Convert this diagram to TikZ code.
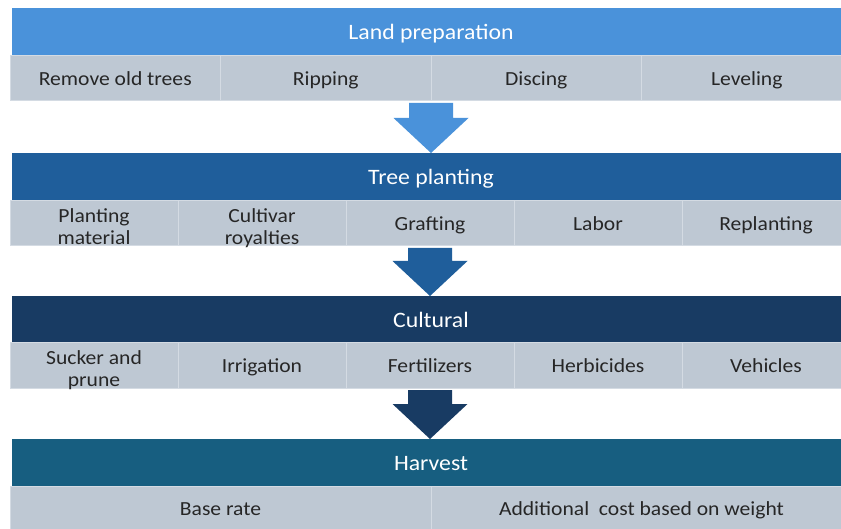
\documentclass[tikz,border=0pt]{standalone}
\usepackage{fontspec}
\setmainfont{Carlito}[FakeStretch=1.08]
\usetikzlibrary{calc}
\definecolor{hA}{HTML}{4A92DA}
\definecolor{hB}{HTML}{1F5E9B}
\definecolor{hC}{HTML}{183B63}
\definecolor{hD}{HTML}{175E80}
\definecolor{cellfill}{HTML}{BEC8D3}
\definecolor{celltext}{HTML}{262626}
\definecolor{divider}{HTML}{D4DBE3}
\newcommand\cellstrut{\rule[-3.6pt]{0pt}{22pt}}
\newcommand\tallstrut{\rule[-3.6pt]{0pt}{28pt}}
\newcommand\hdrstrut{\rule[-4.2pt]{0pt}{24pt}}
\newcommand\blockarrow[3]{%
  \fill[#3] let \p1=(#1), \p2=(#2) in
    (\x1-22pt,\y1-2pt) -- (\x1+22pt,\y1-2pt) -- (\x1+22pt,\y2+35pt) --
    (\x1+37.5pt,\y2+35pt) -- (\x1,\y2) -- (\x1-37.5pt,\y2+35pt) --
    (\x1-22pt,\y2+35pt) -- cycle;}
\begin{document}
\begin{tikzpicture}[x=1pt,y=-1pt,
  hdr/.style={rectangle, anchor=north west, outer sep=0pt, inner sep=0pt,
    minimum width=838pt, minimum height=48pt, text=white,
    font=\fontsize{22}{24}\selectfont,
    execute at begin node=\hdrstrut},
  cell/.style={rectangle, anchor=north west, outer sep=0pt, inner sep=0pt,
    fill=cellfill, draw=divider, line width=1pt, minimum height=45pt,
    text=celltext, align=center, font=\fontsize{20}{22}\selectfont,
    execute at begin node=\cellstrut, execute at end node=\cellstrut},
  twolines/.style={inner ysep=-3.5pt},
  four/.style={cell, minimum width=210.5pt},
  five/.style={cell, minimum width=168pt},
  two/.style={cell, minimum width=421pt}]
\useasboundingbox (0,0) rectangle (841,529);
\fill[white] (0,0) rectangle (841,529);

% Land preparation
\node[hdr, fill=hA] (h1) at (12,8) {Land preparation};
\node[four] (s1a) at (10,56) {Remove old trees};
\node[four] (s1b) at (s1a.north east) {Ripping};
\node[four] (s1c) at (s1b.north east) {Discing};
\node[four] (s1d) at (s1c.north east) {Leveling};

% Tree planting
\node[hdr, fill=hB] (h2) at (12,153) {Tree planting};
\node[five, twolines] (s2a) at (10,201) {\tallstrut Planting\\material};
\node[five, twolines] (s2b) at (s2a.north east) {\tallstrut Cultivar\\royalties};
\node[five] (s2c) at (s2b.north east) {Grafting};
\node[five] (s2d) at (s2c.north east) {Labor};
\node[five] (s2e) at (s2d.north east) {Replanting};

% Cultural
\node[hdr, fill=hC] (h3) at (12,296) {Cultural};
\node[five, twolines] (s3a) at (10,343) {\tallstrut Sucker and\\prune};
\node[five] (s3b) at (s3a.north east) {Irrigation};
\node[five] (s3c) at (s3b.north east) {Fertilizers};
\node[five] (s3d) at (s3c.north east) {Herbicides};
\node[five] (s3e) at (s3d.north east) {Vehicles};

% Harvest
\node[hdr, fill=hD] (h4) at (12,439) {Harvest};
\node[two] (s4a) at (10,486) {Base rate};
\node[two] (s4b) at (s4a.north east) {Additional\ \ cost based on weight};

% Block arrows
\blockarrow{s1b.south east}{h2.north}{hA}
\blockarrow{s2c.south}{h3.north}{hB}
\blockarrow{s3c.south}{h4.north}{hC}
\end{tikzpicture}
\end{document}
